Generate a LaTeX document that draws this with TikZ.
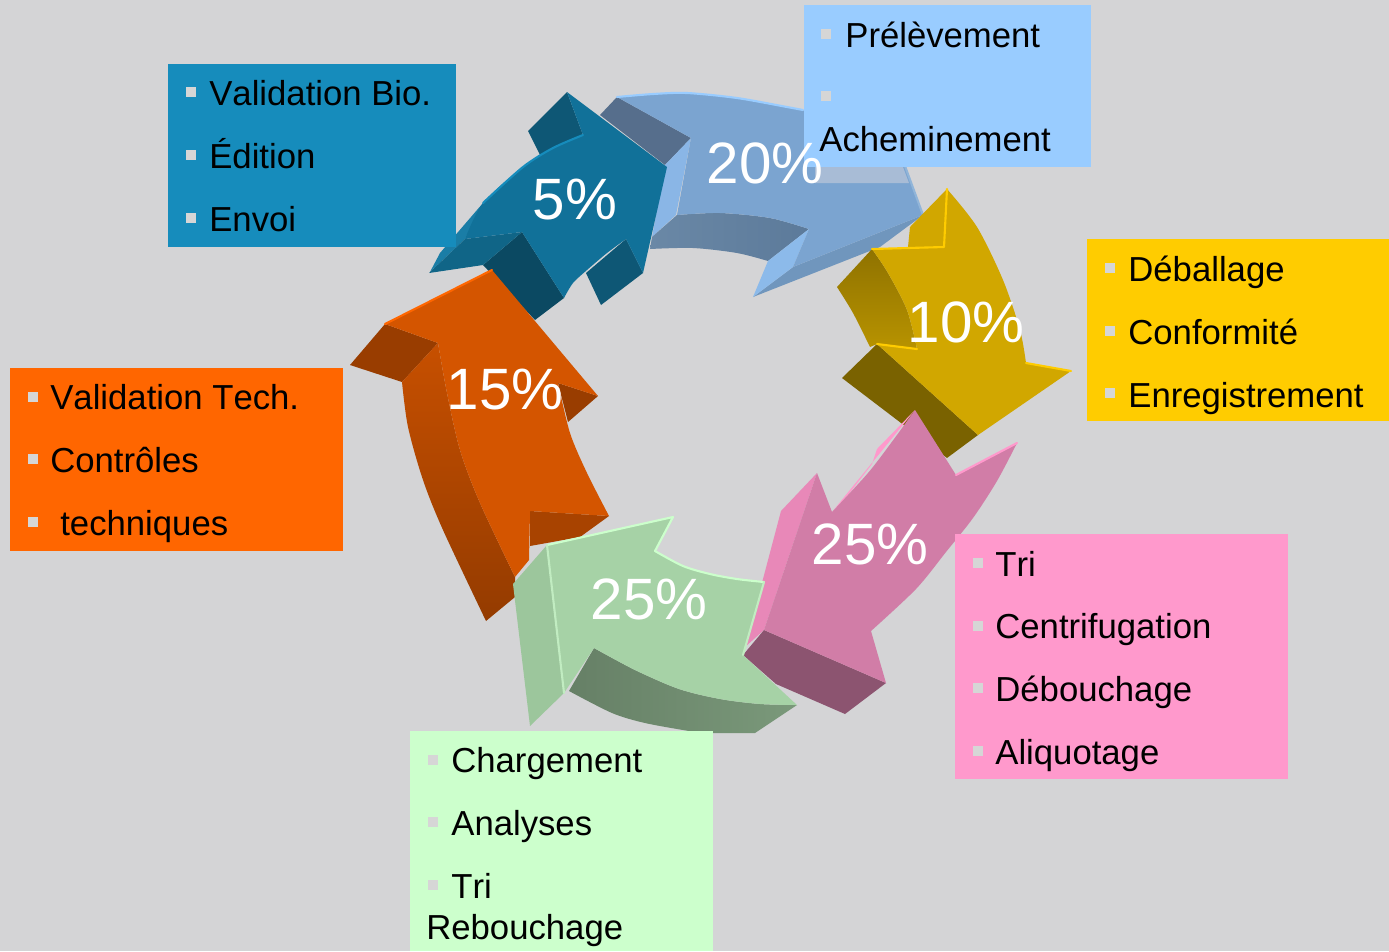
\documentclass[tikz,border=0pt]{standalone}
\usepackage{fontspec}
\setmainfont[Kerning=Off]{Liberation Sans}
\usepackage{tikz}
\usetikzlibrary{positioning}

\definecolor{pagegray}{HTML}{D4D4D6}
\definecolor{bioblue}{HTML}{168CBC}
\definecolor{skyblue}{HTML}{99CCFF}
\definecolor{sunyellow}{HTML}{FFCC00}
\definecolor{rosepink}{HTML}{FF99CC}
\definecolor{mintgreen}{HTML}{CCFFCC}
\definecolor{techorange}{HTML}{FF6600}
\definecolor{tickgray}{HTML}{D6D6D6}

\tikzset{
    panel/.style={draw=none, inner sep=0pt, outer sep=0pt, anchor=north west},
    item/.style={inner sep=0pt, anchor=base west, font=\fontsize{19.75pt}{22pt}\selectfont, text=black},
    tick/.style={fill=tickgray, inner sep=0pt, minimum size=0.2cm},
    pct/.style={inner sep=0pt, text=white, font=\fontsize{33.2pt}{36pt}\selectfont},
    rim/.style={line width=1.2pt, line cap=round, line join=round},
}

\begin{document}
\begin{tikzpicture}[x=0.02cm, y=-0.02cm]
            \useasboundingbox (0,0) rectangle (1389,951);
            \fill[pagegray] (0,0) rectangle (1389,951);

            % 20% arrow
            \fill[fill={rgb,255:red,86;green,110;blue,140}] (617,97) -- (691,138) -- (665,165) -- (600,115) -- cycle;
            \fill[fill={rgb,255:red,138;green,182;blue,230}] (691,138) -- (676,215) -- (652,237) -- (665,165) -- cycle;
            \shade[left color={rgb,255:red,106;green,136;blue,166}, right color={rgb,255:red,92;green,122;blue,154}] (677,215) -- plot[smooth] coordinates {(677,215) (720,213) (770,218) (809,229)} -- (768,261) -- plot[smooth] coordinates {(768,261) (737,253) (693,248) (650,249)} -- (652,237) -- cycle;
            \fill[fill={rgb,255:red,112;green,150;blue,189}] (923,215) -- (793,267) -- (753,297) -- (880,247) -- cycle;
            \fill[fill={rgb,255:red,140;green,186;blue,234}] (809,229) -- (793,267) -- (753,297) -- (768,261) -- cycle;
            \fill[fill={rgb,255:red,123;green,164;blue,208}] (617,97) -- plot[smooth] coordinates {(617,97) (653,94) (687,93) (737,98) (787,107) (850,122) (898,147)} -- (923,215) -- (793,267) -- (809,229) -- plot[smooth] coordinates {(809,229) (770,218) (720,213) (677,215)} -- (691,138) -- cycle;
            \draw[rim, skyblue] plot[smooth] coordinates {(617,97) (653,94) (687,93) (737,98) (787,107) (803,110)};
            \draw[rim, skyblue!70!gray] (898,147) -- (923,215);
            \fill[fill={rgb,255:red,168;green,188;blue,214}] (815,167) -- (903,167) -- (909,183) -- (815,183) -- cycle;

            % 10% arrow
            \fill[fill=sunyellow!82!black] (947,189) -- (944,247) -- (908,247) -- (910,227) -- cycle;
            \shade[top color=sunyellow!56!black, bottom color=sunyellow!72!black] (872,249) -- plot[smooth] coordinates {(872,249) (888,273) (907,310) (917,349)} -- (877,344) -- (870,347) -- plot[smooth] coordinates {(870,347) (853,313) (837,287)} -- cycle;
            \fill[fill=sunyellow!48!black] (877,344) -- (978,435) -- (947,458) -- (842,378) -- cycle;
            \fill[fill=sunyellow!82!black] (947,189) -- plot[smooth] coordinates {(947,189) (977,227) (1003,280) (1020,330) (1026,363)} -- (1071,371) -- (978,435) -- (877,344) -- (917,349) -- plot[smooth] coordinates {(917,349) (907,310) (888,273) (872,249)} -- (944,247) -- cycle;
            \draw[rim, sunyellow] (947,189) -- (944,247) -- (872,249);
            \draw[rim, sunyellow] (877,344) -- (917,349);
            \draw[rim, sunyellow] (1026,363) -- (1071,371);

            % 5% arrow
            \fill[fill={rgb,255:red,26;green,125;blue,166}] (483,203) -- (440,253) -- (430,272) -- (465,239) -- cycle;
            \fill[fill=bioblue!62!black] (567,92) -- (583,135) -- (540,155) -- (528,131) -- cycle;
            \fill[fill=bioblue!62!black] (626,239) -- (643,273) -- (601,305) -- (586,273) -- cycle;
            \fill[fill=bioblue!52!black] (522,232) -- (564,298) -- (535,320) -- (483,265) -- cycle;
            \fill[fill=bioblue!72!black] (465,239) -- (522,232) -- (483,265) -- (429,273) -- cycle;
            \fill[fill={rgb,255:red,17;green,113;blue,153}] (567,92) -- (667,167) -- (643,273) -- (626,239) -- plot[smooth] coordinates {(626,239) (607,253) (587,270) (573,283) (564,298)} -- (522,232) -- (465,239) -- plot[smooth] coordinates {(465,239) (483,203) (523,167) (553,148) (583,135)} -- cycle;
            \draw[rim, bioblue] plot[smooth] coordinates {(483,203) (523,167) (553,148) (583,135)};

            % 15% arrow
            \fill[fill=techorange!60!black] (385,324) -- (438,343) -- (402,382) -- (350,365) -- cycle;
            \fill[fill=techorange!60!black] (558,383) -- (598,396) -- (568,422) -- cycle;
            \shade[top color=techorange!78!black, bottom color=techorange!58!black] (438,343) -- plot[smooth] coordinates {(438,343) (447,393) (460,450) (480,503) (515,577)} -- (515,597) -- (486,621) -- plot[smooth] coordinates {(486,621) (443,530) (423,480) (408,427) (402,382)} -- cycle;
            \fill[fill=techorange!66!black] (530,511) -- (609,516) -- (580,537) -- (530,546) -- cycle;
            \fill[fill=techorange!83!black] (492,270) -- (598,396) -- (558,383) -- plot[smooth] coordinates {(558,383) (570,433) (587,473) (609,516)} -- (530,511) -- (529,560) -- (515,577) -- plot[smooth] coordinates {(515,577) (480,503) (460,450) (447,393) (438,343)} -- (385,324) -- cycle;
            \draw[rim, techorange] (385,324) -- (492,270);

            % 25% arrow, pink
            \fill[fill={rgb,255:red,232;green,136;blue,184}] (817,473) -- (764,630) -- (745,647) -- (781,511) -- cycle;
            \fill[fill=rosepink] (915,410) -- (877,449) -- (872,464) -- (848,495) -- (832,512) -- cycle;
            \fill[fill=rosepink!55!black] (764,630) -- (886,683) -- (845,714) -- (776,684) -- (743,655) -- cycle;
            \fill[fill=rosepink!82!black] (915,410) -- (956,475) -- (1017,443) -- plot[smooth] coordinates {(1017,443) (997,481) (973,518) (946,552) (916,589) (871,631)} -- (886,683) -- (764,630) -- (817,473) -- (832,512) -- plot[smooth] coordinates {(832,512) (868,473) (894,439) (915,410)} -- cycle;
            \draw[rim, rosepink] (956,475) -- (1017,443);

            % 25% arrow, green
            \fill[fill={rgb,255:red,156;green,198;blue,156}] (547,545) -- (564,693) -- (530,726) -- (513,584) -- cycle;
            \shade[left color=mintgreen!50!black, right color=mintgreen!60!black] (594,648) -- plot[smooth] coordinates {(594,648) (635,670) (679,689) (720,699) (760,704) (797,705)} -- (755,733) -- (705,733) -- plot[smooth] coordinates {(705,733) (689,731) (645,723) (612,713) (569,691)} -- cycle;
            \fill[fill={rgb,255:red,166;green,210;blue,166}] (547,545) -- (673,517) -- (655,551) -- plot[smooth] coordinates {(655,551) (683,566) (710,574) (737,579) (764,582)} -- (743,655) -- (797,705) -- plot[smooth] coordinates {(797,705) (760,704) (720,699) (679,689) (635,670) (594,648)} -- (564,693) -- cycle;
            \draw[rim, mintgreen] (547,545) -- (673,517) -- (655,551);
            \draw[rim, mintgreen] plot[smooth] coordinates {(655,551) (683,566) (710,574) (737,579) (764,582)};
            \draw[rim, mintgreen!85!gray] (547,545) -- (564,693);
            \draw[rim, mintgreen!85!gray] (764,582) -- (743,655);

            % Panels
            \node[panel, fill=bioblue, minimum width=5.76cm, minimum height=3.66cm] (bio) at (168,64) {};
            \node[panel, fill=skyblue, minimum width=5.74cm, minimum height=3.24cm] (pre) at (804,5) {};
            \node[panel, fill=sunyellow, minimum width=6.04cm, minimum height=3.64cm] (deb) at (1087,239) {};
            \node[panel, fill=rosepink, minimum width=6.66cm, minimum height=4.90cm] (tri) at (955,534) {};
            \node[panel, fill=mintgreen, minimum width=6.06cm, minimum height=4.40cm] (cha) at (410,731) {};
            \node[panel, fill=techorange, minimum width=6.66cm, minimum height=3.66cm] (val) at (10,368) {};

            % Ticks
            \node[tick] (bio_t1) at (191,92) {};
            \node[tick] (bio_t2) at (191,155) {};
            \node[tick] (bio_t3) at (191,218) {};
            \node[tick] (pre_t1) at (826,34) {};
            \node[tick] (pre_t2) at (826,96) {};
            \node[tick] (deb_t1) at (1110,268) {};
            \node[tick] (deb_t2) at (1110,331) {};
            \node[tick] (deb_t3) at (1110,393) {};
            \node[tick] (tri_t1) at (978,563) {};
            \node[tick] (tri_t2) at (978,626) {};
            \node[tick] (tri_t3) at (978,688) {};
            \node[tick] (tri_t4) at (978,751) {};
            \node[tick] (cha_t1) at (433,760) {};
            \node[tick] (cha_t2) at (433,822) {};
            \node[tick] (cha_t3) at (433,885) {};
            \node[tick] (val_t1) at (33,397) {};
            \node[tick] (val_t2) at (33,459) {};
            \node[tick] (val_t3) at (33,522) {};

            % Items
            \node[item] (bio1) at (209,105) {Validation Bio.};
            \node[item] (bio2) at (209,168) {Édition};
            \node[item] (bio3) at (209,231) {Envoi};
            \node[item] (pre1) at (845,47) {Prélèvement};
            \node[item] (pre2) at (819,151) {Acheminement};
            \node[item] (deb1) at (1128,281) {Déballage};
            \node[item] (deb2) at (1128,344) {Conformité};
            \node[item] (deb3) at (1128,407) {Enregistrement};
            \node[item] (tri1) at (995,576) {Tri};
            \node[item] (tri2) at (995,638) {Centrifugation};
            \node[item] (tri3) at (995,701) {Débouchage};
            \node[item] (tri4) at (995,764) {Aliquotage};
            \node[item] (cha1) at (451,772) {Chargement};
            \node[item] (cha2) at (451,835) {Analyses};
            \node[item] (cha3) at (451,898) {Tri};
            \node[item] (cha4) at (426,939) {Rebouchage};
            \node[item] (val1) at (50,409) {Validation Tech.};
            \node[item] (val2) at (50,472) {Contrôles};
            \node[item] (val3) at (60,535) {techniques};

            % Shares
            \node[pct] (p20) at (765,163) {20\%};
            \node[pct] (p10) at (966,322) {10\%};
            \node[pct] (p5) at (575,200) {5\%};
            \node[pct] (p15) at (505,390) {15\%};
            \node[pct] (p25a) at (870,544) {25\%};
            \node[pct] (p25b) at (649,599) {25\%};
        \end{tikzpicture}
\end{document}
